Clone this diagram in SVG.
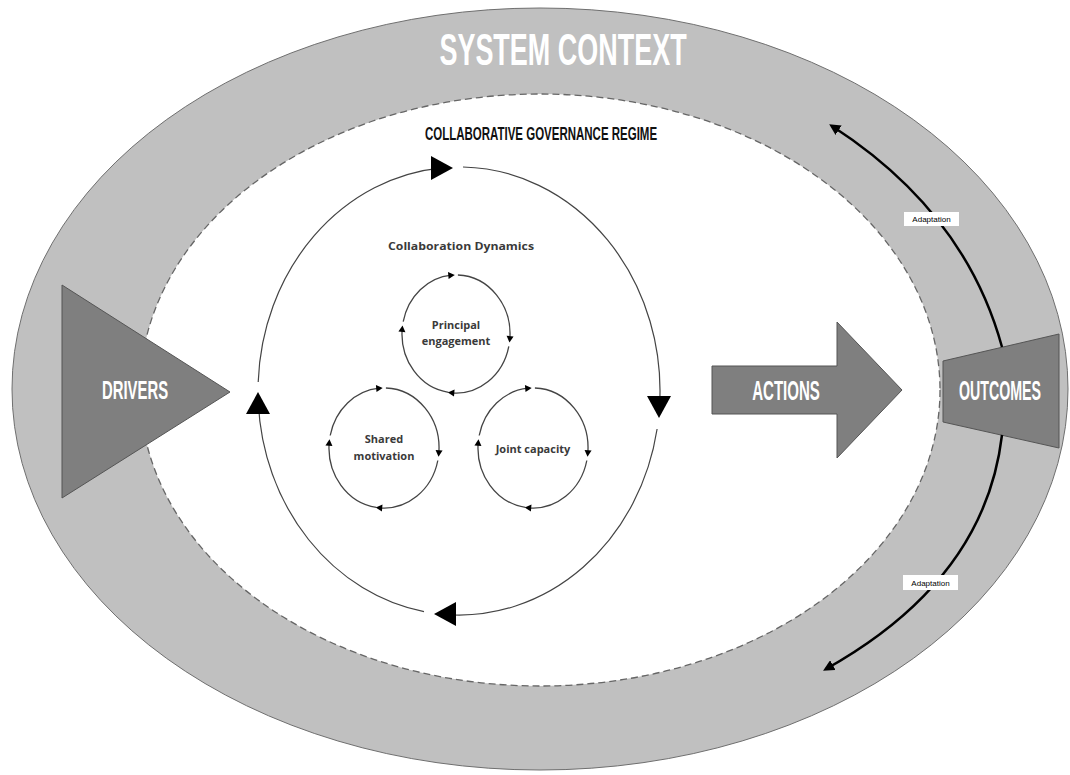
<svg xmlns="http://www.w3.org/2000/svg" width="1070" height="775" viewBox="0 0 1070 775">
<style>
.cond{font-family:"Liberation Sans",Arial,sans-serif;font-weight:bold;text-anchor:middle}
.lbl{font-family:"Open Sans","Liberation Sans",sans-serif;font-weight:bold;font-size:11px;fill:#3a3a3a;text-anchor:middle}
.loop{fill:none;stroke:#444;stroke-width:1.2}
.sloop{fill:none;stroke:#444;stroke-width:1.3}
.dark{fill:#7f7f7f;stroke:#555;stroke-width:1}
.adapt{fill:none;stroke:#000;stroke-width:2.5;marker-end:url(#ah)}
.adl{font-family:"Liberation Sans",Arial,sans-serif;font-size:8px;fill:#000;text-anchor:middle}
</style>
<defs>
<path id="big" d="M -11 -12 L 11 0 L -11 12 Z" fill="#000"/>
<path id="sm" d="M -3 -3.5 L 3.5 0 L -3 3.5 Z" fill="#000"/>
<marker id="ah" viewBox="0 0 10 10" refX="7" refY="5" markerWidth="4.5" markerHeight="4.5" orient="auto" markerUnits="strokeWidth">
<path d="M0 0 L10 5 L0 10 Z" fill="#000"/>
</marker>
</defs>
<rect width="1070" height="775" fill="#fff"/>
<g id="system-context">
<ellipse cx="540" cy="389" rx="528" ry="381" fill="#c0c0c0" stroke="#6f6f6f" stroke-width="1"/>
<text class="cond" transform="translate(563,65) scale(0.6,1)" x="0" y="0" font-size="45" fill="#fff" textLength="412" lengthAdjust="spacingAndGlyphs">SYSTEM CONTEXT</text>
</g>
<g id="governance-regime">
<ellipse cx="540" cy="390" rx="400" ry="296" fill="#fff" stroke="#666" stroke-width="1.3" stroke-dasharray="7 4"/>
<text class="cond" transform="translate(541,140) scale(0.6,1)" x="0" y="0" font-size="19" fill="#111" textLength="387" lengthAdjust="spacingAndGlyphs">COLLABORATIVE GOVERNANCE REGIME</text>
</g>
<g id="drivers">
<polygon class="dark" points="62,285 62,498 230,392"/>
<text class="cond" transform="translate(135,399) scale(0.57,1)" x="0" y="0" font-size="26" fill="#fff" textLength="116" lengthAdjust="spacingAndGlyphs">DRIVERS</text>
</g>
<g id="actions">
<polygon class="dark" points="712,366 837,366 837,322 902,390 837,458 837,414 712,414"/>
<text class="cond" transform="translate(786,400) scale(0.56,1)" x="0" y="0" font-size="27" fill="#fff" textLength="121" lengthAdjust="spacingAndGlyphs">ACTIONS</text>
</g>
<g id="outcomes">
<polygon class="dark" points="943,361 1059,334 1059,448 943,422"/>
<text class="cond" transform="translate(1000,400) scale(0.53,1)" x="0" y="0" font-size="27" fill="#fff" textLength="155" lengthAdjust="spacingAndGlyphs">OUTCOMES</text>
</g>
<g id="collaboration-dynamics">
<text class="lbl" x="461" y="250" textLength="146" lengthAdjust="spacingAndGlyphs">Collaboration Dynamics</text>
</g>
<g id="principal-engagement">
<text class="lbl" x="456" y="329" font-size="12">Principal</text>
<text class="lbl" x="456" y="345" font-size="12">engagement</text>
</g>
<g id="shared-motivation">
<text class="lbl" x="384" y="443" font-size="12">Shared</text>
<text class="lbl" x="384" y="460" font-size="12">motivation</text>
</g>
<g id="joint-capacity">
<text class="lbl" x="533" y="453" font-size="12">Joint capacity</text>
</g>
<g id="connectors">
<path class="loop" d="M 463 167 A 201 224 0 0 1 659.5 407 M 657.1 429 A 201 224 0 0 1 445 614.5 M 424 611.6 A 201 224 0 0 1 258.3 403 M 258.2 382 A 201 224 0 0 1 442 167.8"/>
<use href="#big" transform="translate(442,168)"/>
<use href="#big" transform="translate(659,407) rotate(90)"/>
<use href="#big" transform="translate(445,614) rotate(180)"/>
<use href="#big" transform="translate(258,403) rotate(270)"/>
<path class="sloop" d="M 457.9 275 A 54 59 0 0 1 509.8 339.1 M 508.8 346.3 A 54 59 0 0 1 451.3 392.8 M 448.5 392.4 A 54 59 0 0 1 402.2 328.9 M 403.2 321.7 A 54 59 0 0 1 451.3 275.2"/>
<use href="#sm" transform="translate(451.3,275.2) rotate(-5)"/>
<use href="#sm" transform="translate(509.8,339.1) rotate(95)"/>
<use href="#sm" transform="translate(451.3,392.8) rotate(185)"/>
<use href="#sm" transform="translate(402.2,328.9) rotate(275)"/>
<path class="sloop" d="M 385.9 388 A 55 60 0 0 1 438.8 453.2 M 437.8 460.5 A 55 60 0 0 1 379.2 507.8 M 376.3 507.4 A 55 60 0 0 1 329.2 442.8 M 330.2 435.5 A 55 60 0 0 1 379.2 388.2"/>
<use href="#sm" transform="translate(379.2,388.2) rotate(-5)"/>
<use href="#sm" transform="translate(438.8,453.2) rotate(95)"/>
<use href="#sm" transform="translate(379.2,507.8) rotate(185)"/>
<use href="#sm" transform="translate(329.2,442.8) rotate(275)"/>
<path class="sloop" d="M 534.9 388 A 55 60 0 0 1 587.8 453.2 M 586.8 460.5 A 55 60 0 0 1 528.2 507.8 M 525.3 507.4 A 55 60 0 0 1 478.2 442.8 M 479.2 435.5 A 55 60 0 0 1 528.2 388.2"/>
<use href="#sm" transform="translate(528.2,388.2) rotate(-5)"/>
<use href="#sm" transform="translate(587.8,453.2) rotate(95)"/>
<use href="#sm" transform="translate(528.2,507.8) rotate(185)"/>
<use href="#sm" transform="translate(478.2,442.8) rotate(275)"/>
<path class="adapt" d="M 1002 347 Q 965 212 832 126"/>
<path class="adapt" d="M 1002 435 Q 985 580 826 669"/>
<rect x="904" y="212" width="55" height="14" fill="#fff"/>
<text class="adl" x="931.5" y="222">Adaptation</text>
<rect x="903" y="575" width="55" height="15" fill="#fff"/>
<text class="adl" x="930.5" y="585.5">Adaptation</text>
</g>
</svg>
